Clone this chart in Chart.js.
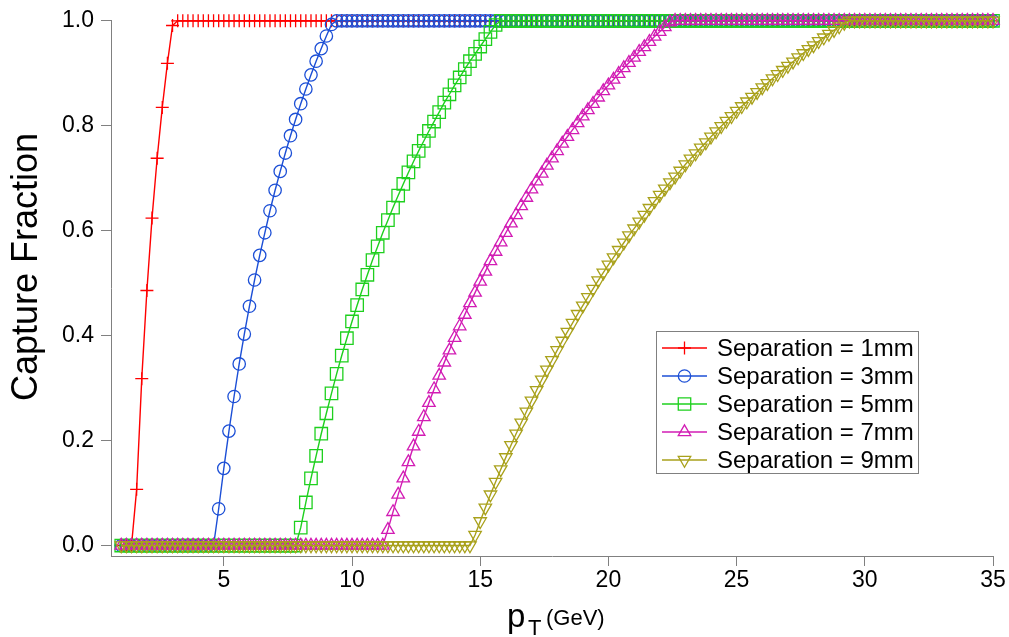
<!DOCTYPE html>
<html>
<head>
<meta charset="utf-8">
<script src="https://cdn.jsdelivr.net/npm/chart.js@4.4.1/dist/chart.umd.min.js"></script>
<style>
  html, body { margin: 0; padding: 0; background: #ffffff; }
  #wrap { position: relative; width: 1009px; height: 637px; }
  canvas { display: block; }
</style>
</head>
<body>
<div id="wrap"><canvas id="c" width="1009" height="637"></canvas></div>
<script>
// ---------------- data ----------------
const pT = [
  1,1.2,1.4,1.6,1.8, 2,2.2,2.4,2.6,2.8, 3,3.2,3.4,3.6,3.8, 4,4.2,4.4,4.6,4.8,
  5,5.2,5.4,5.6,5.8, 6,6.2,6.4,6.6,6.8, 7,7.2,7.4,7.6,7.8, 8,8.2,8.4,8.6,8.8,
  9,9.2,9.4,9.6,9.8, 10,10.2,10.4,10.6,10.8, 11,11.2,11.4,11.6,11.8, 12,12.2,12.4,12.6,12.8,
  13,13.2,13.4,13.6,13.8, 14,14.2,14.4,14.6,14.8, 15,15.2,15.4,15.6,15.8, 16,16.2,16.4,16.6,16.8,
  17,17.2,17.4,17.6,17.8, 18,18.2,18.4,18.6,18.8, 19,19.2,19.4,19.6,19.8, 20,20.2,20.4,20.6,20.8,
  21,21.2,21.4,21.6,21.8, 22,22.2,22.4,22.6,22.8, 23,23.2,23.4,23.6,23.8, 24,24.2,24.4,24.6,24.8,
  25,25.2,25.4,25.6,25.8, 26,26.2,26.4,26.6,26.8, 27,27.2,27.4,27.6,27.8, 28,28.2,28.4,28.6,28.8,
  29,29.2,29.4,29.6,29.8, 30,30.2,30.4,30.6,30.8, 31,31.2,31.4,31.6,31.8, 32,32.2,32.4,32.6,32.8,
  33,33.2,33.4,33.6,33.8, 34,34.2,34.4,34.6,34.8, 35
];

const sep1mm = [
  0,0,0,0.107,0.318,0.486,0.624,0.738,0.835,0.919,0.991,
  1,1,1,1,1,1,1,1,1,1, 1,1,1,1,1,1,1,1,1,1, 1,1,1,1,1,1,1,1,1,1, 1,1,1,1,1,1,1,1,1,1,
  1,1,1,1,1,1,1,1,1,1, 1,1,1,1,1,1,1,1,1,1, 1,1,1,1,1,1,1,1,1,1, 1,1,1,1,1,1,1,1,1,1,
  1,1,1,1,1,1,1,1,1,1, 1,1,1,1,1,1,1,1,1,1, 1,1,1,1,1,1,1,1,1,1, 1,1,1,1,1,1,1,1,1,1,
  1,1,1,1,1,1,1,1,1,1, 1,1,1,1,1,1,1,1,1,1, 1,1,1,1,1,1,1,1,1,1, 1,1,1,1,1,1,1,1,1,1
];

const sep3mm = [
  0,0,0,0,0,0,0,0,0,0, 0,0,0,0,0,0,0,0,0,
  0.070,0.147,0.218,0.284,0.346,0.403,0.456,0.506,0.553,0.596,
  0.638,0.677,0.713,0.748,0.781,0.812,0.842,0.870,0.897,0.923,
  0.947,0.971,0.993,
  1,1,1,1,1,1,1,1,1,1, 1,1,1,1,1,1,1,1,1,1, 1,1,1,1,1,1,1,1,1,1, 1,1,1,1,1,1,1,1,1,1,
  1,1,1,1,1,1,1,1,1,1, 1,1,1,1,1,1,1,1,1,1, 1,1,1,1,1,1,1,1,1,1, 1,1,1,1,1,1,1,1,1,1,
  1,1,1,1,1,1,1,1,1,1, 1,1,1,1,1,1,1,1,1,1, 1,1,1,1,1,1,1,1,1,1, 1,1,1,1,1,1,1,1,1,1,
  1,1,1,1,1,1,1,1,1
];

const sep5mm = [
  0,0,0,0,0,0,0,0,0,0, 0,0,0,0,0,0,0,0,0,0, 0,0,0,0,0,0,0,0,0,0, 0,0,0,0,0,
  0.034,0.082,0.128,0.171,0.213,0.252,0.290,0.327,0.362,0.395,
  0.427,0.458,0.488,0.516,0.544,0.570,0.596,0.620,0.644,0.667,
  0.689,0.711,0.732,0.752,0.771,0.790,0.808,0.826,0.844,0.860,
  0.877,0.892,0.908,0.923,0.937,0.951,0.965,0.979,0.992,
  1,1,1,1,1,1,1,1,1,1, 1,1,1,1,1,1,1,1,1,1, 1,1,1,1,1,1,1,1,1,1, 1,1,1,1,1,1,1,1,1,1,
  1,1,1,1,1,1,1,1,1,1, 1,1,1,1,1,1,1,1,1,1, 1,1,1,1,1,1,1,1,1,1, 1,1,1,1,1,1,1,1,1,1,
  1,1,1,1,1,1,1,1,1,1, 1,1,1,1,1,1,1
];

const sep7mm = [
  0,0,0,0,0,0,0,0,0,0, 0,0,0,0,0,0,0,0,0,0, 0,0,0,0,0,0,0,0,0,0, 0,0,0,0,0,0,0,0,0,0,
  0,0,0,0,0,0,0,0,0,0, 0,0,
  0.030,0.064,0.097,0.128,0.159,0.189,0.217,0.245,0.272,0.298,
  0.324,0.349,0.372,0.396,0.418,0.440,0.462,0.482,0.503,0.522,
  0.542,0.560,0.578,0.596,0.614,0.630,0.647,0.663,0.679,0.694,
  0.709,0.724,0.738,0.752,0.766,0.779,0.792,0.805,0.818,0.830,
  0.842,0.854,0.866,0.877,0.888,0.899,0.910,0.920,0.930,0.941,
  0.950,0.960,0.970,0.979,0.988,0.997,
  1,1,1,1,1,1,1,1,1,1, 1,1,1,1,1,1,1,1,1,1, 1,1,1,1,1,1,1,1,1,1, 1,1,1,1,1,1,1,1,1,1,
  1,1,1,1,1,1,1,1,1,1, 1,1,1,1,1,1,1,1,1,1, 1,1,1
];

const sep9mm = [
  0,0,0,0,0,0,0,0,0,0, 0,0,0,0,0,0,0,0,0,0, 0,0,0,0,0,0,0,0,0,0, 0,0,0,0,0,0,0,0,0,0,
  0,0,0,0,0,0,0,0,0,0, 0,0,0,0,0,0,0,0,0,0, 0,0,0,0,0,0,0,0,0,
  0.020,0.046,0.072,0.097,0.121,0.145,0.168,0.191,0.213,0.234,
  0.255,0.276,0.296,0.316,0.335,0.353,0.372,0.390,0.407,0.424,
  0.441,0.457,0.473,0.489,0.505,0.520,0.535,0.549,0.563,0.577,
  0.591,0.604,0.617,0.630,0.643,0.656,0.668,0.680,0.692,0.703,
  0.714,0.726,0.737,0.747,0.758,0.768,0.779,0.789,0.799,0.809,
  0.818,0.828,0.837,0.846,0.855,0.864,0.873,0.881,0.890,0.898,
  0.906,0.914,0.922,0.930,0.938,0.946,0.953,0.961,0.968,0.975,
  0.982,0.989,0.996,
  1,1,1,1,1,1,1,1,1,1, 1,1,1,1,1,1,1,1,1,1, 1,1,1,1,1,1,1,1,1
];

const seriesNames = ['Separation = 1mm', 'Separation = 3mm', 'Separation = 5mm', 'Separation = 7mm', 'Separation = 9mm'];
const xTicks = [5, 10, 15, 20, 25, 30, 35];
const yTicks = [0.0, 0.2, 0.4, 0.6, 0.8, 1.0];
const yTitle = 'Capture Fraction';
const xTitleMain = 'p';
const xTitleSub = 'T';
const xTitleUnit = '(GeV)';

// ---------------- styling ----------------
const FONT = "'Liberation Sans', Arial, Helvetica, sans-serif";
const styles = [
  { color: '#ff0000', pointStyle: 'cross',    radius: 6.5, rotation: 0 },
  { color: '#1c4fd6', pointStyle: 'circle',   radius: 6.2, rotation: 0 },
  { color: '#1ed01e', pointStyle: 'rect',     radius: 8.8, rotation: 0 },
  { color: '#d21cb4', pointStyle: 'triangle', radius: 7.2, rotation: 0 },
  { color: '#a9a11b', pointStyle: 'triangle', radius: 7.2, rotation: 180 }
];
const seriesValues = [sep1mm, sep3mm, sep5mm, sep7mm, sep9mm];

const datasets = seriesValues.map((vals, k) => ({
  label: seriesNames[k],
  data: vals.map((v, i) => ({ x: pT[i], y: v })),
  borderColor: styles[k].color,
  backgroundColor: 'rgba(0,0,0,0)',
  borderWidth: 1.4,
  pointStyle: styles[k].pointStyle,
  pointRadius: styles[k].radius,
  pointRotation: styles[k].rotation,
  pointBorderColor: styles[k].color,
  pointBackgroundColor: 'rgba(0,0,0,0)',
  pointBorderWidth: 1.3,
  pointHoverRadius: styles[k].radius,
  tension: 0,
  fill: false,
  clip: false,
  order: 5 - k
}));

function drawMarker(ctx, style, x, y, r, rotationDeg) {
  const rad = rotationDeg * Math.PI / 180;
  ctx.beginPath();
  if (style === 'circle') {
    ctx.arc(x, y, r, 0, Math.PI * 2);
  } else if (style === 'rect') {
    const s = Math.SQRT1_2 * r;
    ctx.rect(x - s, y - s, 2 * s, 2 * s);
  } else if (style === 'triangle') {
    let a = rad;
    ctx.moveTo(x + Math.sin(a) * r, y - Math.cos(a) * r);
    a += 2 * Math.PI / 3;
    ctx.lineTo(x + Math.sin(a) * r, y - Math.cos(a) * r);
    a += 2 * Math.PI / 3;
    ctx.lineTo(x + Math.sin(a) * r, y - Math.cos(a) * r);
    ctx.closePath();
  } else if (style === 'cross') {
    ctx.moveTo(x, y + r); ctx.lineTo(x, y - r);
    ctx.moveTo(x + r, y); ctx.lineTo(x - r, y);
  }
  ctx.stroke();
}

const legendPlugin = {
  id: 'boxLegend',
  afterDraw(chart) {
    const ctx = chart.ctx;
    ctx.save();
    const bx = 656.5, by = 331.5, bw = 262, bh = 142;
    ctx.fillStyle = '#ffffff';
    ctx.fillRect(bx, by, bw, bh);
    ctx.strokeStyle = '#808080';
    ctx.lineWidth = 1;
    ctx.strokeRect(bx, by, bw, bh);
    ctx.font = '24px ' + FONT;
    ctx.textAlign = 'left';
    ctx.textBaseline = 'middle';
    seriesNames.forEach((name, k) => {
      const y = 348 + k * 28;
      const st = styles[k];
      ctx.strokeStyle = st.color;
      ctx.lineWidth = 1.4;
      ctx.beginPath();
      ctx.moveTo(662, y); ctx.lineTo(707, y);
      ctx.stroke();
      ctx.lineWidth = 1.3;
      drawMarker(ctx, st.pointStyle, 684.5, y, st.radius, st.rotation);
      ctx.fillStyle = '#000000';
      ctx.fillText(name, 717, y + 1);
    });
    ctx.restore();
  }
};

const titlePlugin = {
  id: 'axisTitles',
  afterDraw(chart) {
    const ctx = chart.ctx;
    ctx.save();
    ctx.fillStyle = '#000000';
    ctx.translate(37, 267);
    ctx.rotate(-Math.PI / 2);
    ctx.font = '36px ' + FONT;
    ctx.textAlign = 'center';
    ctx.textBaseline = 'alphabetic';
    ctx.fillText(yTitle, 0, 0);
    ctx.restore();

    ctx.save();
    ctx.fillStyle = '#000000';
    ctx.textAlign = 'left';
    ctx.textBaseline = 'alphabetic';
    ctx.font = '33px ' + FONT;
    ctx.fillText(xTitleMain, 507, 627);
    ctx.font = '22px ' + FONT;
    ctx.fillText(xTitleSub, 528, 635);
    ctx.fillText(xTitleUnit, 546, 625);
    ctx.restore();
  }
};

Chart.defaults.font.family = FONT;

new Chart(document.getElementById('c'), {
  type: 'line',
  data: { datasets },
  options: {
    responsive: false,
    animation: false,
    devicePixelRatio: 1,
    events: [],
    layout: { padding: { top: 19.5, right: 16, left: 0, bottom: 0 } },
    plugins: { legend: { display: false }, tooltip: { enabled: false }, title: { display: false } },
    scales: {
      x: {
        type: 'linear',
        min: 0.6,
        max: 35,
        afterBuildTicks: (s) => { s.ticks = xTicks.map(v => ({ value: v })); },
        afterFit: (s) => { s.height = 81; },
        ticks: { color: '#000000', font: { size: 23 }, padding: 1, maxRotation: 0, autoSkip: false,
                 callback: (v) => String(v) },
        grid: { display: true, drawOnChartArea: false, drawTicks: true, tickLength: 10, color: '#808080', lineWidth: 1 },
        border: { display: true, color: '#808080', width: 1 },
        title: { display: false }
      },
      y: {
        type: 'linear',
        min: -0.02,
        max: 1.0,
        afterBuildTicks: (s) => { s.ticks = yTicks.map(v => ({ value: v })); },
        afterFit: (s) => { s.width = 111; },
        ticks: { color: '#000000', font: { size: 23 }, padding: 7,
                 callback: (v) => Number(v).toFixed(1) },
        grid: { display: true, drawOnChartArea: false, drawTicks: true, tickLength: 10, color: '#808080', lineWidth: 1 },
        border: { display: true, color: '#808080', width: 1 },
        title: { display: false }
      }
    }
  },
  plugins: [legendPlugin, titlePlugin]
});
</script>
</body>
</html>
